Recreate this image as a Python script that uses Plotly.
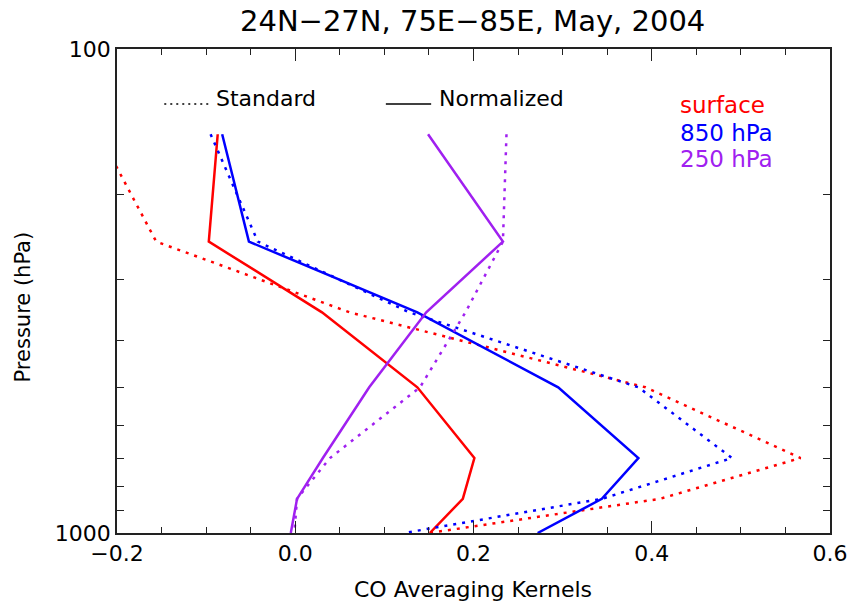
import plotly.graph_objects as go

# Pressure levels (hPa)
pressure = [150, 250, 350, 500, 700, 850, 1000]

# Averaging kernels
surface_std = [-0.22, -0.156, 0.061, 0.393, 0.567, 0.409, 0.150]
surface_norm = [-0.087, -0.097, 0.030, 0.137, 0.201, 0.188, 0.151]
p850_std = [-0.095, -0.042, 0.128, 0.385, 0.490, 0.344, 0.122]
p850_norm = [-0.082, -0.052, 0.137, 0.295, 0.385, 0.344, 0.272]
p250_std = [0.237, 0.233, 0.191, 0.140, 0.039, 0.002, -0.001]
p250_norm = [0.149, 0.233, 0.147, 0.083, 0.031, 0.002, -0.005]

x_tickvals = [-0.2, 0.0, 0.2, 0.4, 0.6]
x_ticktext = ["\u22120.2", "0.0", "0.2", "0.4", "0.6"]
y_tickvals = [100, 1000]
y_ticktext = ["100", "1000"]
y_minor = [200, 300, 400, 500, 600, 700, 800, 900]

RED = "#FF0000"
BLUE = "#0000FF"
PURPLE = "#A020F0"
FONT = "DejaVu Sans"
DOT = "3px,6px"

fig = go.Figure()
series = [
    (surface_std, RED, DOT), (surface_norm, RED, "solid"),
    (p850_std, BLUE, DOT), (p850_norm, BLUE, "solid"),
    (p250_std, PURPLE, DOT), (p250_norm, PURPLE, "solid"),
]
for vals, col, dash in series:
    fig.add_trace(go.Scatter(x=vals, y=pressure, mode="lines",
                             line=dict(color=col, width=2.5, dash=dash),
                             showlegend=False, hoverinfo="skip"))

axcommon = dict(showline=True, linecolor="#222", linewidth=1.5, mirror="allticks",
                ticks="inside", tickcolor="#222", tickwidth=1, showgrid=False,
                zeroline=False, tickfont=dict(family=FONT, size=22, color="black"))

fig.update_xaxes(range=[-0.2, 0.6], tickmode="array", tickvals=x_tickvals,
                 ticktext=x_ticktext, ticklen=12,
                 minor=dict(dtick=0.05, tick0=0, ticks="inside", ticklen=6,
                            tickcolor="#222", tickwidth=1, showgrid=False),
                 **axcommon)
fig.update_yaxes(type="log", range=[3, 2], tickmode="array", tickvals=y_tickvals,
                 ticktext=y_ticktext, ticklen=12,
                 minor=dict(tickmode="array", tickvals=y_minor, ticks="inside",
                            ticklen=7, tickcolor="#222", tickwidth=1, showgrid=False),
                 **axcommon)

W, H = 860, 602
X0, X1, Y0, Y1 = 117, 841, 49, 533
L, T, R, B = X0, Y0, W - X1, H - Y1
pw, ph = X1 - X0, Y1 - Y0


def px(x):
    return (x - X0) / pw


def py(y):
    return (Y1 - y) / ph


annotations = [
    dict(text="24N\u221227N, 75E\u221285E, May, 2004", x=px(478), y=py(21),
         font=dict(size=29, color="black")),
    dict(text="CO Averaging Kernels", x=px(478), y=py(589),
         font=dict(size=22, color="black")),
    dict(text="Pressure (hPa)", x=px(22), y=py(307), textangle=-90,
         font=dict(size=21, color="black")),
    dict(text="Standard", x=px(216), y=py(98), xanchor="left",
         font=dict(size=22, color="black")),
    dict(text="Normalized", x=px(442), y=py(98), xanchor="left",
         font=dict(size=22, color="black")),
    dict(text="surface", x=px(687), y=py(105), xanchor="left",
         font=dict(size=23, color=RED)),
    dict(text="850 hPa", x=px(687), y=py(133), xanchor="left",
         font=dict(size=23, color=BLUE)),
    dict(text="250 hPa", x=px(687), y=py(159), xanchor="left",
         font=dict(size=23, color=PURPLE)),
]
for a in annotations:
    a.update(xref="paper", yref="paper", showarrow=False, yanchor="middle")
    a.setdefault("xanchor", "center")
    a["font"]["family"] = FONT
fig.update_layout(annotations=annotations)

fig.add_shape(type="line", xref="paper", yref="paper", x0=px(165), x1=px(210),
              y0=py(104), y1=py(104), line=dict(color="black", width=1.5, dash="2px,4px"))
fig.add_shape(type="line", xref="paper", yref="paper", x0=px(390), x1=px(436),
              y0=py(104), y1=py(104), line=dict(color="black", width=1.5))

# initial size fits inside the page's default 8px body margin; the script
# below removes that margin and grows the figure to the full 860x602 window
fig.update_layout(width=W - 16, height=H - 16, margin=dict(l=L, r=R, t=T, b=B),
                  plot_bgcolor="white", paper_bgcolor="white",
                  font=dict(family=FONT))

post = (
    "document.documentElement.style.margin='0px';"
    "document.documentElement.style.overflow='hidden';"
    "document.body.style.margin='0px';"
    "document.body.style.overflow='hidden';"
    "var gd=document.getElementById('{plot_id}');"
    "gd.style.width='%dpx';gd.style.height='%dpx';"
    "Plotly.relayout(gd,{width:%d,height:%d});" % (W, H, W, H)
)

fig.write_html("out.html",
               config=dict(displayModeBar=False, responsive=False),
               post_script=post)
